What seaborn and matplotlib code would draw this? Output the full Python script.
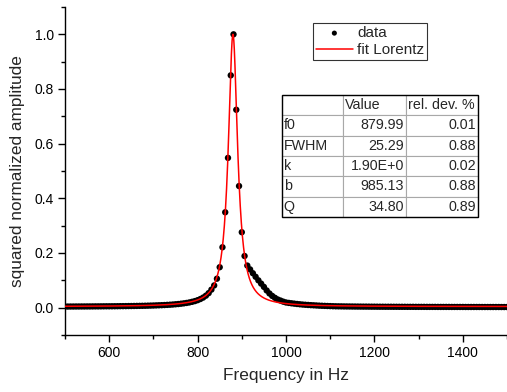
import numpy as np
import matplotlib
matplotlib.use("Agg")
import matplotlib.pyplot as plt
from matplotlib.ticker import MultipleLocator, FixedLocator, FormatStrFormatter
from matplotlib.patches import Rectangle
import seaborn as sns

# ---------------- data ----------------
freq = [
    500, 506.25, 512.5, 518.75, 525, 531.25, 537.5, 543.75,
    550, 556.25, 562.5, 568.75, 575, 581.25, 587.5, 593.75,
    600, 606.25, 612.5, 618.75, 625, 631.25, 637.5, 643.75,
    650, 656.25, 662.5, 668.75, 675, 681.25, 687.5, 693.75,
    700, 706.25, 712.5, 718.75, 725, 731.25, 737.5, 743.75,
    750, 756.25, 762.5, 768.75, 775, 781.25, 787.5, 793.75,
    800, 806.25, 812.5, 818.75, 825, 831.25, 837.5, 843.75,
    850, 856.25, 862.5, 868.75, 875, 881.25, 887.5, 893.75,
    900, 906.25, 912.5, 918.75, 925, 931.25, 937.5, 943.75,
    950, 956.25, 962.5, 968.75, 975, 981.25, 987.5, 993.75,
    1000, 1006.25, 1012.5, 1018.75, 1025, 1031.25, 1037.5, 1043.75,
    1050, 1056.25, 1062.5, 1068.75, 1075, 1081.25, 1087.5, 1093.75,
    1100, 1106.25, 1112.5, 1118.75, 1125, 1131.25, 1137.5, 1143.75,
    1150, 1156.25, 1162.5, 1168.75, 1175, 1181.25, 1187.5, 1193.75,
    1200, 1206.25, 1212.5, 1218.75, 1225, 1231.25, 1237.5, 1243.75,
    1250, 1256.25, 1262.5, 1268.75, 1275, 1281.25, 1287.5, 1293.75,
    1300, 1306.25, 1312.5, 1318.75, 1325, 1331.25, 1337.5, 1343.75,
    1350, 1356.25, 1362.5, 1368.75, 1375, 1381.25, 1387.5, 1393.75,
    1400, 1406.25, 1412.5, 1418.75, 1425, 1431.25, 1437.5, 1443.75,
    1450, 1456.25, 1462.5, 1468.75, 1475, 1481.25, 1487.5, 1493.75,
    1500,
]
amplitude = [
    0.0041, 0.0041, 0.0042, 0.0042, 0.0043, 0.0043, 0.0044, 0.0044,
    0.0045, 0.0045, 0.0046, 0.0047, 0.0047, 0.0048, 0.0049, 0.0050,
    0.0050, 0.0051, 0.0052, 0.0053, 0.0055, 0.0056, 0.0057, 0.0059,
    0.0060, 0.0062, 0.0064, 0.0066, 0.0068, 0.0070, 0.0073, 0.0076,
    0.0079, 0.0083, 0.0087, 0.0091, 0.0096, 0.0102, 0.0108, 0.0115,
    0.0124, 0.0133, 0.0145, 0.0158, 0.0173, 0.0191, 0.0214, 0.0240,
    0.0274, 0.0316, 0.0369, 0.0439, 0.0532, 0.0660, 0.0813, 0.106,
    0.148, 0.221, 0.349, 0.548, 0.850, 1.000, 0.724, 0.445,
    0.276, 0.189, 0.154, 0.140, 0.126, 0.113, 0.100, 0.088,
    0.076, 0.063, 0.052, 0.043, 0.036, 0.030, 0.026, 0.022,
    0.019, 0.0174, 0.016, 0.0147, 0.0135, 0.0124, 0.0114, 0.0106,
    0.0099, 0.0092, 0.0086, 0.0080, 0.0074, 0.0069, 0.0065, 0.0061,
    0.0057, 0.0053, 0.0050, 0.0048, 0.0047, 0.0045, 0.0044, 0.0043,
    0.0042, 0.0041, 0.0040, 0.0039, 0.0038, 0.0038, 0.0037, 0.0036,
    0.0036, 0.0035, 0.0034, 0.0034, 0.0033, 0.0033, 0.0033, 0.0032,
    0.0032, 0.0031, 0.0031, 0.0031, 0.0030, 0.0030, 0.0030, 0.0029,
    0.0029, 0.0029, 0.0029, 0.0028, 0.0028, 0.0028, 0.0028, 0.0027,
    0.0027, 0.0027, 0.0027, 0.0027, 0.0026, 0.0026, 0.0026, 0.0026,
    0.0026, 0.0025, 0.0025, 0.0025, 0.0025, 0.0025, 0.0025, 0.0024,
    0.0024, 0.0024, 0.0024, 0.0024, 0.0024, 0.0024, 0.0023, 0.0023,
    0.0023,
]

# Lorentz fit parameters (from the table)
f0 = 879.99
fwhm = 25.29
baseline = 0.004

param_names = ["f0", "FWHM", "k", "b", "Q"]
param_values = ["879.99", "25.29", "1.90E+0", "985.13", "34.80"]
rel_dev = ["0.01", "0.88", "0.02", "0.88", "0.89"]

x_ticks = [600, 800, 1000, 1200, 1400]
y_ticks = [0.0, 0.2, 0.4, 0.6, 0.8, 1.0]

# ---------------- style ----------------
sns.set_style("ticks")
plt.rcParams["font.family"] = ["Liberation Sans", "DejaVu Sans"]

fig = plt.figure(figsize=(5.07, 3.92), dpi=100)
ax = fig.add_axes([65 / 507, (392 - 335) / 392, 442 / 507, 328 / 392])

# fit curve from the Lorentz parameters
f_fit = np.linspace(500, 1500, 2001)
hw2 = (fwhm / 2) ** 2
fit = baseline + (1 - baseline) * hw2 / ((f_fit - f0) ** 2 + hw2)

sns.scatterplot(x=freq, y=amplitude, ax=ax, color="black", s=21,
                edgecolor="none", linewidth=0, label="data", zorder=2)
sns.lineplot(x=f_fit, y=fit, ax=ax, color="red", linewidth=1.1,
             label="fit Lorentz", zorder=3)

ax.set_xlim(500, 1500)
ax.set_ylim(-0.1, 1.1)
ax.xaxis.set_major_locator(FixedLocator(x_ticks))
ax.xaxis.set_minor_locator(MultipleLocator(100))
ax.yaxis.set_major_locator(FixedLocator(y_ticks))
ax.yaxis.set_minor_locator(MultipleLocator(0.1))
ax.yaxis.set_major_formatter(FormatStrFormatter("%.1f"))
ax.tick_params(which="major", direction="out", length=5, width=1.0,
               labelsize=10, pad=3, color="black", labelcolor="black")
ax.tick_params(which="minor", direction="out", length=3, width=1.0,
               color="black")

for s in ["top", "right"]:
    ax.spines[s].set_visible(False)
for s in ["left", "bottom"]:
    ax.spines[s].set_linewidth(1.0)
    ax.spines[s].set_color("black")

ax.set_xlabel("Frequency in Hz", fontsize=12.4, labelpad=6)
ax.set_ylabel("squared normalized amplitude", fontsize=12.4, labelpad=7)

leg = ax.legend(loc="upper left", bbox_to_anchor=(0.561, 0.951),
                borderaxespad=0, fontsize=11, frameon=True, fancybox=False,
                edgecolor="black", handlelength=2.4, handletextpad=0.3,
                labelspacing=0.2, borderpad=0.2, markerscale=0.8)
leg.get_frame().set_linewidth(0.8)

# ---------------- table ----------------
cell_text = [["", "Value", "rel. dev. %"]] + [
    [n, v, r] for n, v, r in zip(param_names, param_values, rel_dev)
]
bbox = [0.491, 0.360, 0.4434, 0.372]
tbl = ax.table(cellText=cell_text, bbox=bbox,
               colWidths=[0.311, 0.321, 0.368], cellLoc="right")
tbl.auto_set_font_size(False)
tbl.set_fontsize(10.3)
tbl.set_zorder(5)
for (r, c), cell in tbl.get_celld().items():
    cell.set_edgecolor("#a8a8a8")
    cell.set_linewidth(0.8)
    cell.set_facecolor("white")
    cell.PAD = 0.03
    if c == 0 or r == 0:
        cell._loc = "left"
        cell.get_text().set_ha("left")
    else:
        cell._loc = "right"
        cell.get_text().set_ha("right")
ax.add_patch(Rectangle((bbox[0], bbox[1]), bbox[2], bbox[3],
                       transform=ax.transAxes, fill=False,
                       edgecolor="black", linewidth=1.0, zorder=6))

fig.savefig("out.png", dpi=100)
